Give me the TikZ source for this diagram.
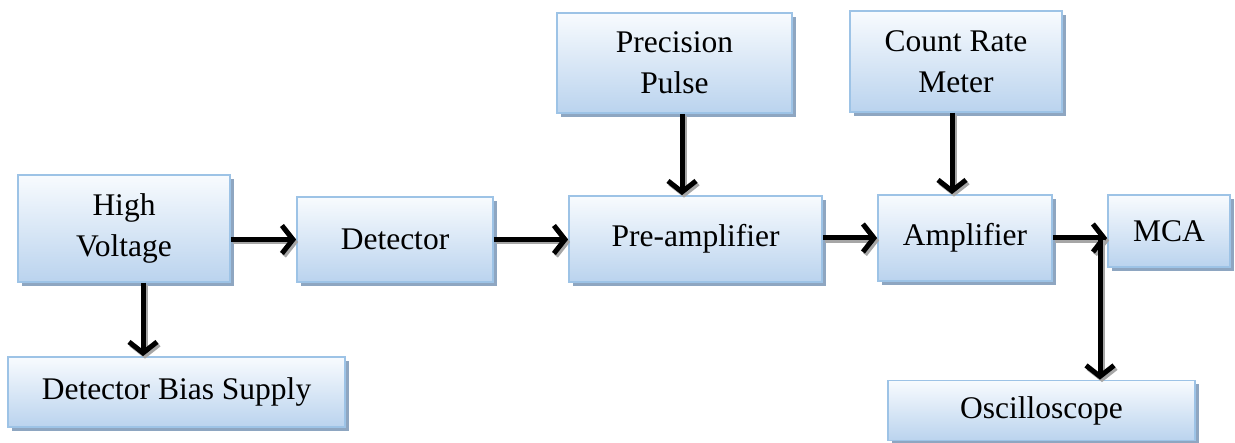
\documentclass[tikz,border=0pt]{standalone}
\usepackage{fontspec}
\setmainfont{Liberation Serif}
\usetikzlibrary{arrows.meta,shadows,calc}
\definecolor{boxline}{HTML}{9DC3E6}
\definecolor{boxtop}{HTML}{F8FBFE}
\definecolor{boxbot}{HTML}{BAD3EE}
\definecolor{boxshadow}{HTML}{8EA6C1}
\begin{document}
\begin{tikzpicture}[x=1pt,y=-1pt,
  box/.style={draw=boxline, line width=1.8pt, top color=boxtop, bottom color=boxbot,
    general shadow={shadow xshift=4pt, shadow yshift=-4pt, fill=boxshadow},
    align=center, inner sep=2pt, font=\fontsize{31.5}{41}\selectfont},
  arr/.style={line width=5pt, black,
    -{Straight Barb[length=11pt,width=28pt,line width=5pt]},
    preaction={draw=black!35, line width=5pt, -{Straight Barb[length=11pt,width=28pt,line width=5pt]}, transform canvas={shift={(2pt,-2.5pt)}}}}
]
\useasboundingbox (0,0) rectangle (1235,443);
\node[box, minimum width=212pt, minimum height=107pt] (hv) at (124,228.5) {High\\Voltage};
\node[box, minimum width=196pt, minimum height=85pt] (det) at (395,239.5) {Detector};
\node[box, minimum width=253pt, minimum height=86pt] (pre) at (695.5,239) {Pre-amplifier};
\node[box, minimum width=174pt, minimum height=86pt] (amp) at (965,238) {Amplifier};
\node[box, minimum width=122pt, minimum height=72pt] (mca) at (1169,231) {MCA};
\node[box, minimum width=235pt, minimum height=100pt] (pp) at (674.5,63) {Precision\\Pulse};
\node[box, minimum width=212pt, minimum height=101pt] (crm) at (956,61.5) {Count Rate\\Meter};
\node[box, minimum width=337pt, minimum height=70pt] (dbs) at (176.5,392) {Detector Bias Supply};
\node[box, minimum width=307pt, minimum height=60pt] (osc) at (1041.5,410.5) {Oscilloscope};
\coordinate (hvx) at (143,0);
\coordinate (ppx) at (682,0);
\coordinate (crmx) at (952,0);
\coordinate (j) at (1100,238);
\draw[arr] (hv.east |- det.west) -- (det.west);
\draw[arr] (det.east) -- (pre.west |- det.east);
\draw[arr] (pre.east |- amp.west) -- (amp.west);
\draw[arr] (amp.east) -- (amp.east -| mca.west);
\draw[arr] (j) -- (j |- osc.north);
\draw[arr] (pp.south -| ppx) -- (pre.north -| ppx);
\draw[arr] (crm.south -| crmx) -- (amp.north -| crmx);
\draw[arr] (hv.south -| hvx) -- (dbs.north -| hvx);
\end{tikzpicture}
\end{document}
